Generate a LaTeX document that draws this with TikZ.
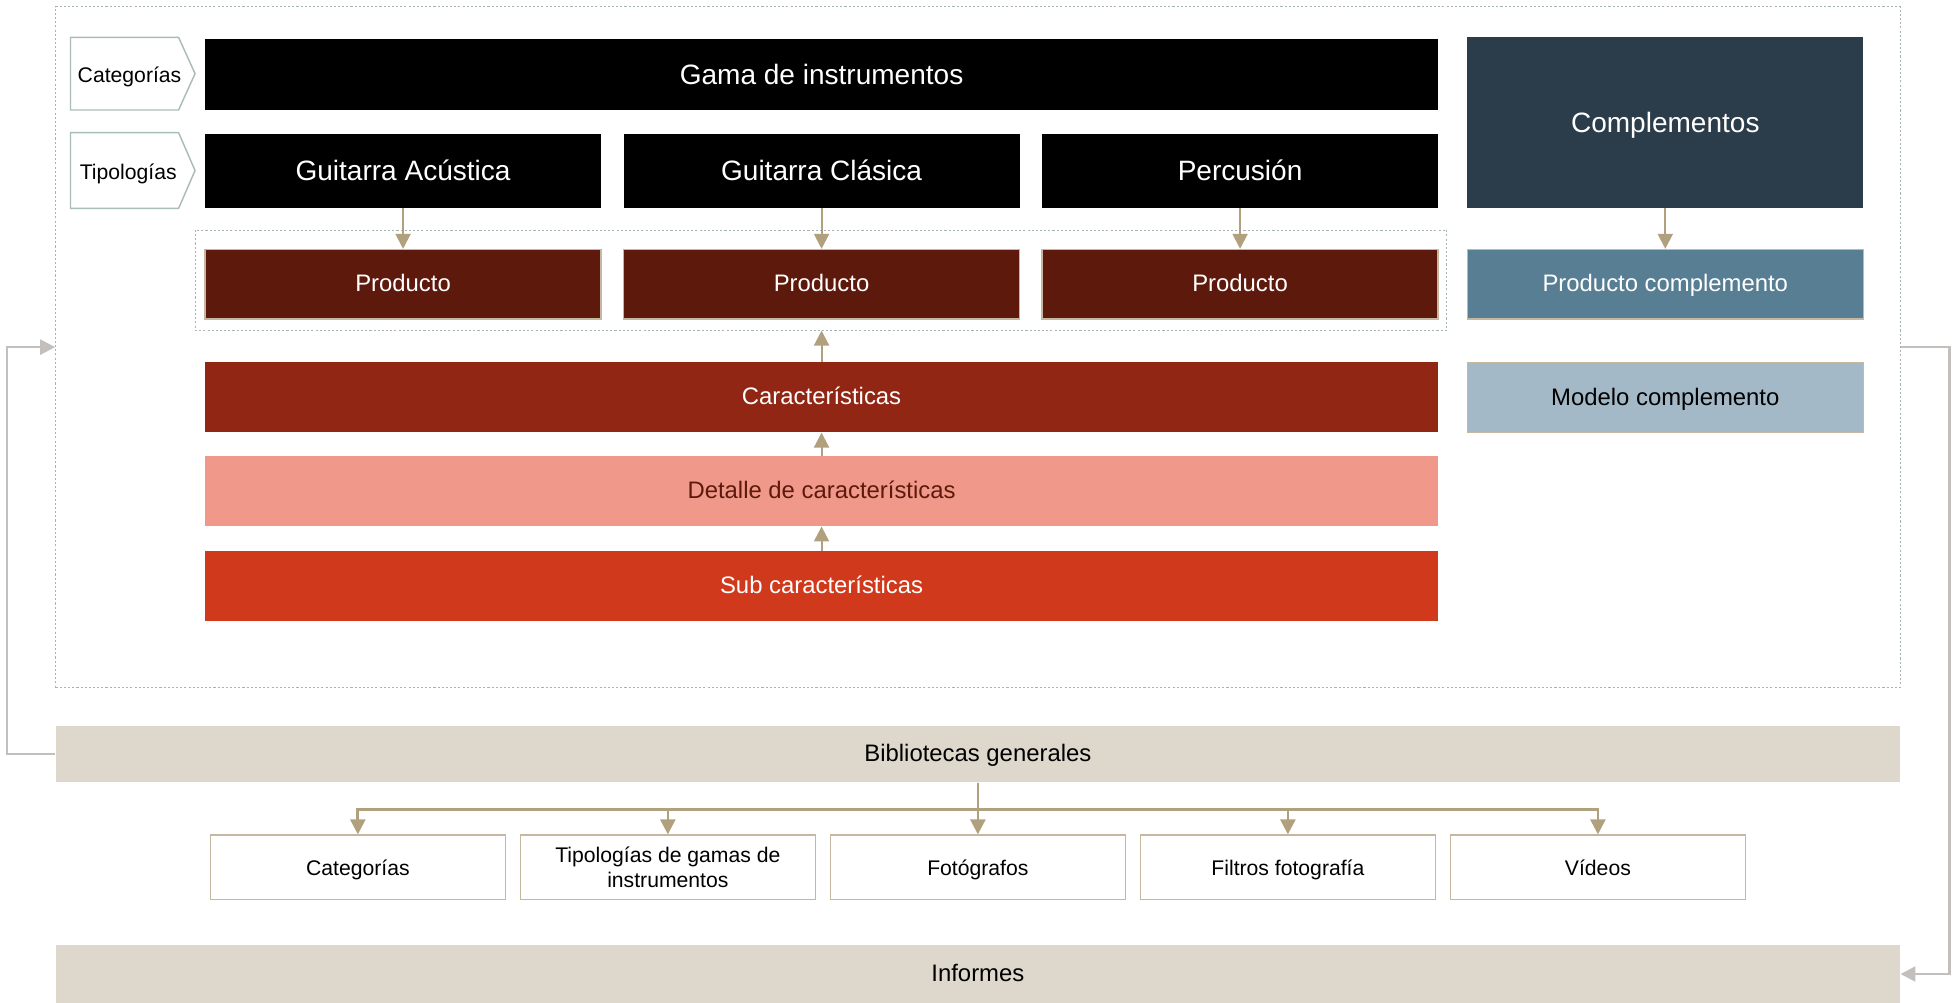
\documentclass[tikz,border=0pt]{standalone}
\usepackage{fontspec}
\setmainfont{Liberation Sans}
\usetikzlibrary{arrows.meta}

\definecolor{darkslate}{HTML}{2B3C4A}
\definecolor{productred}{HTML}{5D190C}
\definecolor{caracred}{HTML}{912614}
\definecolor{salmon}{HTML}{F0998A}
\definecolor{subred}{HTML}{D0391B}
\definecolor{steelblue}{HTML}{587E94}
\definecolor{lightsteel}{HTML}{A3B9C7}
\definecolor{bandbeige}{HTML}{DED8CC}
\definecolor{linktan}{HTML}{B0A07E}
\definecolor{boxtan}{HTML}{C5B7A0}
\definecolor{feedgray}{HTML}{C3BFBD}
\definecolor{dotgray}{HTML}{A7B2B2}
\definecolor{taggreen}{HTML}{A9BDB6}

\tikzset{
  bigtext/.style={font=\fontsize{13.5}{16}\selectfont},
  midtext/.style={font=\fontsize{11.5}{13.5}\selectfont},
  smalltext/.style={font=\fontsize{10.2}{12}\selectfont},
  evenline/.style={text height=1.04em, text depth=0.1em},
  midline/.style={text height=0.86em, text depth=0.12em},
  smallline/.style={text height=0.94em, text depth=0.12em},
  plainbase/.style={rectangle, inner sep=0pt, align=center},
  plainbox/.style={plainbase, evenline},
  topbox/.style={plainbox, fill=black, text=white, bigtext},
  prodbox/.style={plainbox, midline, fill=productred, draw=boxtan, line width=0.6pt, text=white, midtext, minimum width=190.8pt, minimum height=33.5pt},
  layerbox/.style={plainbox, midline, midtext, minimum width=593.9pt, minimum height=33.8pt},
  libbase/.style={plainbase, fill=white, draw=boxtan, line width=0.6pt, smalltext, minimum width=141.9pt, minimum height=31pt},
  libbox/.style={libbase, smallline},
  bandbox/.style={plainbox, midline, fill=bandbeige, midtext, minimum width=888.5pt},
  groupbox/.style={rectangle, draw=dotgray, line width=0.5pt, dash pattern=on 1pt off 1pt, inner sep=0pt},
  tagline/.style={draw=taggreen, line width=0.7pt, fill=white},
  link/.style={draw=linktan, line width=1pt, -{Triangle[length=7.2pt,width=7.2pt]}},
  buslink/.style={link, line width=1.3pt},
  feed/.style={draw=feedgray, line width=1.2pt, -{Triangle[length=7.2pt,width=7.2pt]}},
}

\begin{document}
\begin{tikzpicture}[x=0.6pt, y=-0.6pt]
		%%%%% START %%%%%
		\useasboundingbox (0,0) rectangle (1568,805);
		
		\node[groupbox, minimum width=888.5pt, minimum height=328pt] (frame) at (785.1,278.7) {};
		
		\draw[tagline] (56.6,30) -- (143.4,30) -- (156.6,59.15) -- (143.4,88.3) -- (56.6,88.3) -- cycle;
		\node[smalltext, smallline] (tagcat) at (104,59.15) {Categorías};
		\draw[tagline] (56.6,106.5) -- (143.4,106.5) -- (156.6,136.9) -- (143.4,167.3) -- (56.6,167.3) -- cycle;
		\node[smalltext, smallline] (tagtip) at (103,137.4) {Tipologías};
		
		\node[topbox, minimum width=593.9pt, minimum height=34.2pt] (gama) at (659.6,59.8) {Gama de instrumentos};
		\node[topbox, minimum width=190.8pt, minimum height=35.5pt] (acustica) at (323.6,137.2) {Guitarra Acústica};
		\node[topbox, minimum width=190.8pt, minimum height=35.5pt] (clasica) at (659.6,137.2) {Guitarra Clásica};
		\node[topbox, minimum width=190.8pt, minimum height=35.5pt] (percusion) at (995.6,137.2) {Percusión};
		\node[topbox, fill=darkslate, minimum width=190.8pt, minimum height=82.2pt] (compl) at (1337,98.2) {Complementos};
		
		\node[groupbox, minimum width=602.9pt, minimum height=48.2pt] (prods) at (659.05,224.85) {};
		\node[prodbox] (prodacu) at (323.6,228.2) {Producto};
		\node[prodbox] (prodcla) at (659.6,228.2) {Producto};
		\node[prodbox] (prodper) at (995.6,228.2) {Producto};
		\node[prodbox, fill=steelblue] (prodcompl) at (1337,228.2) {Producto complemento};
		\node[prodbox, fill=lightsteel, text=black, minimum height=33.7pt] (modelo) at (1337,319) {Modelo complemento};
		
		\node[layerbox, fill=caracred, text=white] (carac) at (659.6,318.8) {Características};
		\node[layerbox, fill=salmon, text=productred] (detalle) at (659.6,394.2) {Detalle de características};
		\node[layerbox, fill=subred, text=white] (subcarac) at (659.6,470.5) {Sub características};
		
		\draw[link] (acustica.south) -- (prodacu.north);
		\draw[link] (clasica.south) -- (prodcla.north);
		\draw[link] (percusion.south) -- (prodper.north);
		\draw[link] (compl.south) -- (prodcompl.north);
		\draw[link] (carac.north) -- (carac.north |- prods.south);
		\draw[link] (detalle.north) -- (carac.south);
		\draw[link] (subcarac.north) -- (detalle.south);
		
		\node[bandbox, minimum height=27pt] (biblio) at (785.1,605.4) {Bibliotecas generales};
		\node[libbox] (libcat) at (287.3,696.2) {Categorías};
		\node[libbase] (libtip) at (536.2,696.2) {Tipologías de gamas de\\instrumentos};
		\node[libbox] (libfot) at (785.1,696.2) {Fotógrafos};
		\node[libbox] (libfil) at (1034,696.2) {Filtros fotografía};
		\node[libbox] (libvid) at (1282.9,696.2) {Vídeos};
		\node[bandbox, minimum height=28pt] (informes) at (785.1,782) {Informes};
		
		\draw[buslink] (biblio.south) -- ++(0,21.6) -| (libcat.north);
		\draw[buslink] (biblio.south) -- ++(0,21.6) -| (libtip.north);
		\draw[buslink] (biblio.south) -- ++(0,21.6) -| (libfot.north);
		\draw[buslink] (biblio.south) -- ++(0,21.6) -| (libfil.north);
		\draw[buslink] (biblio.south) -- ++(0,21.6) -| (libvid.north);
		
		\draw[feed] (biblio.west) -- ++(-38.8,0) |- (frame.west);
		\draw[feed] (frame.east) -- ++(39.1,0) |- (informes.east);
		
		%%%%% END %%%%%
\end{tikzpicture}
\end{document}
